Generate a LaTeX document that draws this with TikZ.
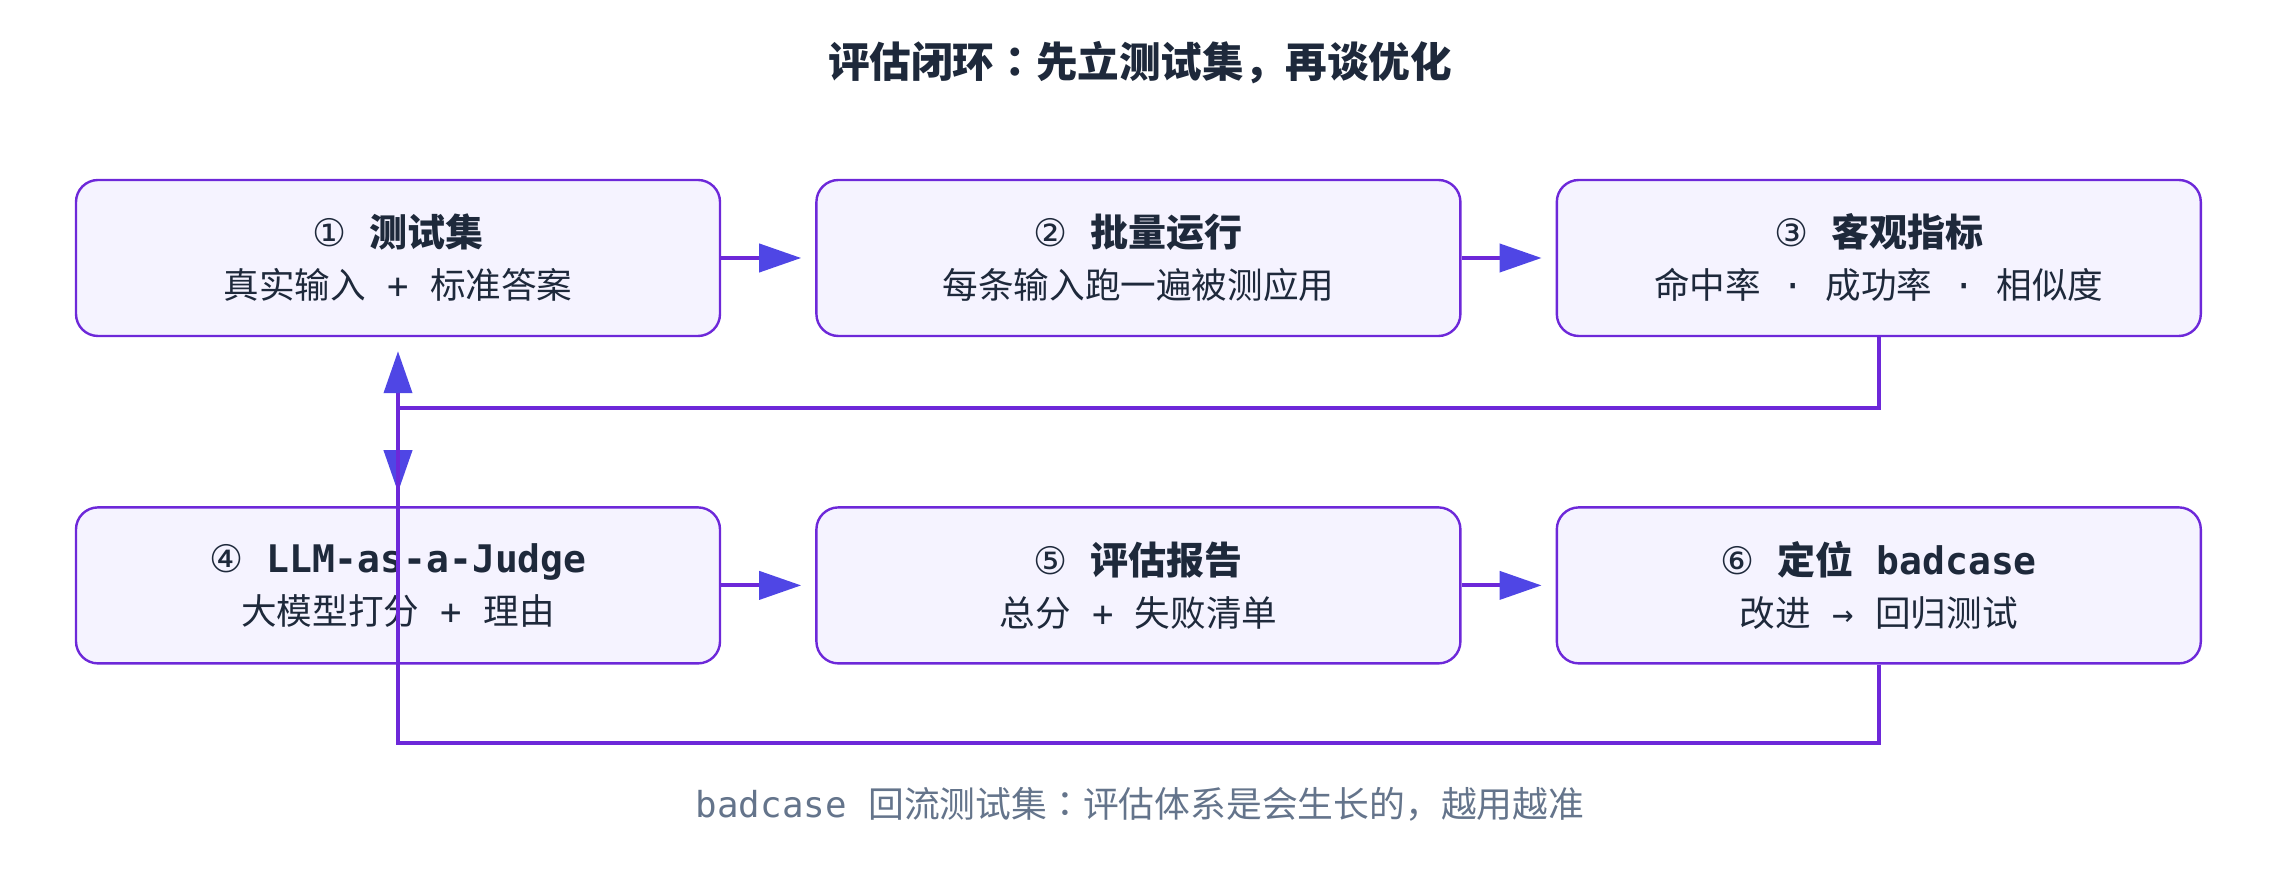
\documentclass[tikz,border=0pt]{standalone}
\usepackage{fontspec}
\setmonofont{DejaVu Sans Mono}
\newfontfamily\cjk{Noto Sans CJK SC}
\newfontfamily\cjkpunct{Noto Sans CJK KR}
\newfontfamily\sym{DejaVu Sans}
\usetikzlibrary{arrows.meta,positioning}

\definecolor{ink}{HTML}{1E293B}
\definecolor{muted}{HTML}{64748B}
\definecolor{boxfill}{HTML}{F5F3FF}
\definecolor{boxline}{HTML}{6D28D9}
\definecolor{headc}{HTML}{4F46E5}

\tikzset{
  stage/.style={draw=boxline, line width=1.2pt, fill=boxfill, rounded corners=11pt,
    minimum width=322pt, minimum height=78pt, inner sep=0pt, align=center,
    text=ink, font=\ttfamily\fontsize{17.8}{26}\selectfont},
  link/.style={draw=boxline, line width=2pt, shorten >=7pt,
    -{Triangle[length=21pt,width=14pt,color=headc]}},
}
\newcommand{\hd}[1]{{\fontsize{19}{26}\selectfont\bfseries #1}}
\newcommand{\num}[1]{{\sym\mdseries #1}}

\begin{document}
\begin{tikzpicture}[node distance=84.5pt and 47pt]
  \useasboundingbox (0,0) rectangle (1140pt,-435pt);

  \node[text=ink, font=\cjk\bfseries\fontsize{20.8}{25}\selectfont] (title) at (570pt,-31.5pt)
    {评估闭环{\cjkpunct\bfseries ：}先立测试集{\cjkpunct\bfseries ，}再谈优化};

  \node[stage] (b1) at (199pt,-129pt)
    {\hd{\num{①} {\cjk 测试集}}\\{\cjk 真实输入} + {\cjk 标准答案}};
  \node[stage] (b2) [right=of b1]
    {\hd{\num{②} {\cjk 批量运行}}\\{\cjk 每条输入跑一遍被测应用}};
  \node[stage] (b3) [right=of b2]
    {\hd{\num{③} {\cjk 客观指标}}\\{\cjk 命中率} · {\cjk 成功率} · {\cjk 相似度}};
  \node[stage] (b4) [below=of b1]
    {\hd{\num{④} LLM-as-a-Judge}\\{\cjk 大模型打分} + {\cjk 理由}};
  \node[stage] (b5) [right=of b4]
    {\hd{\num{⑤} {\cjk 评估报告}}\\{\cjk 总分} + {\cjk 失败清单}};
  \node[stage] (b6) [right=of b5]
    {\hd{\num{⑥} {\cjk 定位} badcase}\\{\cjk 改进} → {\cjk 回归测试}};

  \node[text=muted, font=\ttfamily\fontsize{17.9}{24}\selectfont] (note) at (570pt,-402pt)
    {badcase {\cjk 回流测试集{\cjkpunct ：}评估体系是会生长的{\cjkpunct ，}越用越准}};

  \coordinate (ya) at (0,-204pt);
  \coordinate (yb) at (0,-371.5pt);

  \draw[link] (b1) -- (b2);
  \draw[link] (b2) -- (b3);
  \draw[link] (b4) -- (b5);
  \draw[link] (b5) -- (b6);
  \draw[link] (b3.south) -- (b3.south |- ya) -| (b4.north);
  \draw[link] (b6.south) -- (b6.south |- yb) -| (b1.south);
\end{tikzpicture}
\end{document}
